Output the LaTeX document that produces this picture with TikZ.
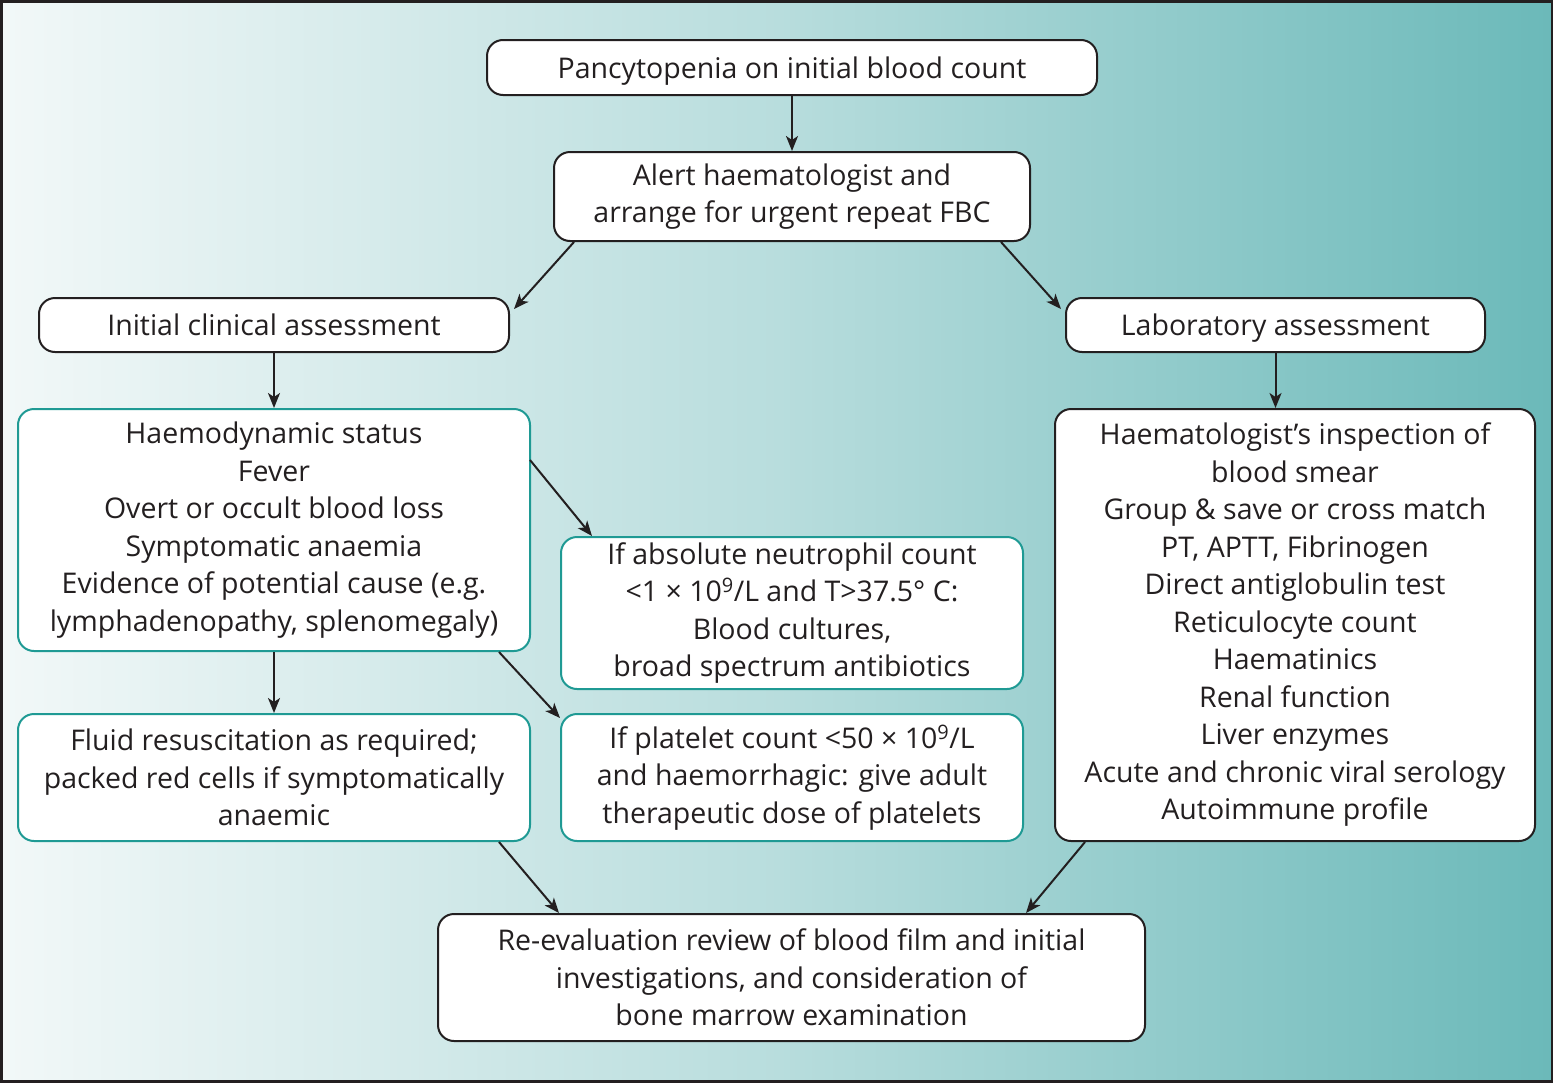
\documentclass[tikz,border=0pt]{standalone}
\usepackage{fontspec}
\setmainfont{Open Sans}
\usetikzlibrary{arrows.meta,calc}
\definecolor{bgA}{HTML}{F2F8F8}
\definecolor{bgB}{HTML}{B8DDDD}
\definecolor{bgC}{HTML}{6BB9B9}
\definecolor{tealb}{HTML}{1F9A94}
\definecolor{ink}{HTML}{231F20}
\tikzset{
  box/.style={draw=ink, line width=2pt, fill=white, rounded corners=16pt, align=center,
    text=ink, font=\fontsize{28.5}{37.5}\selectfont, inner sep=0pt},
  tbox/.style={box, draw=tealb},
  oneline/.style={text height=24pt, text depth=3pt},
  arr/.style={draw=ink, line width=2pt, -{Stealth[length=15pt,width=12pt,inset=4pt]}},
}
\begin{document}
\begin{tikzpicture}[x=1pt,y=-1pt]
\useasboundingbox (0,0) rectangle (1553,1082);
\shade[left color=bgA, right color=bgB] (0,0) rectangle (780,1082);
\shade[left color=bgB, right color=bgC] (779,0) rectangle (1553,1082);
\draw[ink, line width=5pt] (0,0) rectangle (1553,1082);

\node[box, oneline, minimum width=610pt, minimum height=55pt] (n1) at (792,67.5) {Pancytopenia on initial blood count};
\node[box, minimum width=476pt, minimum height=89pt] (n2) at (792,196.5) {Alert haematologist and\\arrange for urgent repeat FBC};
\node[box, oneline, minimum width=470pt, minimum height=54pt] (n3) at (274,325) {Initial clinical assessment};
\node[box, oneline, minimum width=419pt, minimum height=54pt] (n4) at (1275.5,325) {Laboratory assessment};
\node[tbox, minimum width=512pt, minimum height=242pt] (n5) at (274,530) {Haemodynamic status\\Fever\\Overt or occult blood loss\\Symptomatic anaemia\\Evidence of potential cause (e.g.\\lymphadenopathy, splenomegaly)};
\node[box, minimum width=480pt, minimum height=432pt] (n6) at (1295,625) {Haematologist’s inspection of\\blood smear\\Group \& save or cross match\\PT, APTT, Fibrinogen\\Direct antiglobulin test\\Reticulocyte count\\Haematinics\\Renal function\\Liver enzymes\\Acute and chronic viral serology\\Autoimmune profile};
\node[tbox, minimum width=462pt, minimum height=152pt] (n7) at (792,613) {If absolute neutrophil count\\<1 × 10\textsuperscript{9}/L and T>37.5° C:\\Blood cultures,\\broad spectrum antibiotics};
\node[tbox, minimum width=512pt, minimum height=127pt] (n8) at (274,777.5) {Fluid resuscitation as required;\\packed red cells if symptomatically\\anaemic};
\node[tbox, minimum width=462pt, minimum height=127pt] (n9) at (792,777.5) {If platelet count <50 × 10\textsuperscript{9}/L\\and haemorrhagic: give adult\\therapeutic dose of platelets};
\node[box, minimum width=707pt, minimum height=127pt] (n10) at (791.5,977.5) {Re-evaluation review of blood film and initial\\investigations, and consideration of\\bone marrow examination};

\draw[arr] (n1.south) -- (n2.north);
\draw[arr] ($(n2.south west)+(21,0)$) -- ($(n3.north east)+(4,12)$);
\draw[arr] ($(n2.south east)+(-30,0)$) -- ($(n4.north west)+(-4,12)$);
\draw[arr] (n3.south) -- (n5.north);
\draw[arr] (n4.south) -- (n6.north -| n4.south);
\draw[arr] ($(n5.north east)+(-1,52)$) -- ($(n7.north west)+(32,0)$);
\draw[arr] (n5.south) -- (n8.north);
\draw[arr] ($(n5.south east)+(-32,0)$) -- ($(n9.north west)+(0,5)$);
\draw[arr] ($(n8.south east)+(-32,0)$) -- ($(n10.north west)+(122,0)$);
\draw[arr] ($(n6.south west)+(31,0)$) -- ($(n10.north east)+(-120,0)$);
\end{tikzpicture}
\end{document}
